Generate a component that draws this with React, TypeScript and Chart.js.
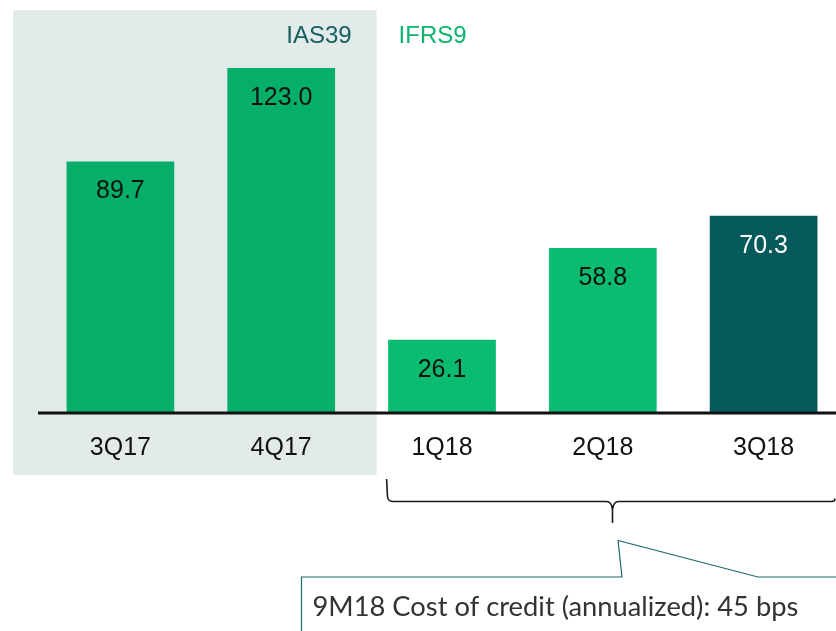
import React, { useEffect, useRef } from "react";
import { Chart, registerables } from "chart.js";

Chart.register(...registerables);

const categories = ["3Q17", "4Q17", "1Q18", "2Q18", "3Q18"];
const values = [89.7, 123.0, 26.1, 58.8, 70.3];
const valueLabels = ["89.7", "123.0", "26.1", "58.8", "70.3"];
const barColors = ["#05AE69", "#05AE69", "#0ABB70", "#0ABB70", "#075A5B"];
const labelColors = ["#111111", "#111111", "#111111", "#111111", "#FFFFFF"];
const regimeLabels = ["IAS39", "IFRS9"];
const calloutText = "9M18 Cost of credit (annualized): 45 bps";

const W = 844;
const H = 631;
const ARIAL = "'Liberation Sans', Arial, sans-serif";

const decorPlugin = {
  id: "decor",
  beforeDraw(chart: any) {
    const { ctx, chartArea, scales } = chart;
    const x = scales.x;
    const midX = (x.getPixelForValue(1) + x.getPixelForValue(2)) / 2;
    const panelLeft = chartArea.left - 27;
    const panelRight = midX + 15;
    ctx.save();
    ctx.fillStyle = "#E3EBEA";
    ctx.fillRect(panelLeft, 10, panelRight - panelLeft, 465);
    ctx.font = `24px ${ARIAL}`;
    ctx.textBaseline = "middle";
    ctx.textAlign = "right";
    ctx.fillStyle = "#17605E";
    ctx.fillText(regimeLabels[0], panelRight - 25, 36);
    ctx.textAlign = "left";
    ctx.fillStyle = "#0BB56C";
    ctx.fillText(regimeLabels[1], panelRight + 22, 36);
    ctx.restore();
  },
  afterDatasetsDraw(chart: any) {
    const { ctx, chartArea } = chart;
    const meta = chart.getDatasetMeta(0);
    ctx.save();
    // value labels
    ctx.font = `25px ${ARIAL}`;
    ctx.textAlign = "center";
    ctx.textBaseline = "middle";
    meta.data.forEach((bar: any, i: number) => {
      ctx.fillStyle = labelColors[i];
      ctx.fillText(valueLabels[i], bar.x, bar.y + 30);
    });
    // baseline
    ctx.strokeStyle = "#111111";
    ctx.lineWidth = 3;
    ctx.beginPath();
    ctx.moveTo(chartArea.left - 2, chartArea.bottom);
    ctx.lineTo(W, chartArea.bottom);
    ctx.stroke();

    // brace
    const b2 = meta.data[2];
    const bl = b2.x - b2.width / 2 - 1.5;
    const br = 835;
    const cx = 612.5;
    const yTop = 479;
    const yH = 501.5;
    const yTip = 523;
    ctx.strokeStyle = "#1A1A1A";
    ctx.lineWidth = 1.6;
    ctx.beginPath();
    ctx.moveTo(bl, yTop);
    ctx.lineTo(bl + 0.8, yH - 5);
    ctx.quadraticCurveTo(bl + 1.5, yH, bl + 6, yH);
    ctx.lineTo(cx - 6, yH);
    ctx.quadraticCurveTo(cx - 1, yH, cx, yH + 8);
    ctx.lineTo(cx, yTip);
    ctx.moveTo(cx, yH + 8);
    ctx.quadraticCurveTo(cx + 1, yH, cx + 6, yH);
    ctx.lineTo(br - 3, yH);
    ctx.quadraticCurveTo(br, yH, br, yH - 3);
    ctx.stroke();

    // callout
    ctx.strokeStyle = "#1C6A6A";
    ctx.lineWidth = 1.2;
    ctx.beginPath();
    ctx.moveTo(301.5, 640);
    ctx.lineTo(301.5, 577);
    ctx.lineTo(622, 577);
    ctx.lineTo(618, 540.5);
    ctx.lineTo(758, 577);
    ctx.lineTo(W, 577);
    ctx.stroke();

    let size = 24;
    const fam = "Lato, 'Open Sans', sans-serif";
    ctx.font = `${size}px ${fam}`;
    const w = ctx.measureText(calloutText).width;
    size = size * (486 / w);
    ctx.font = `${size}px ${fam}`;
    ctx.fillStyle = "#333333";
    ctx.textAlign = "left";
    ctx.textBaseline = "alphabetic";
    ctx.fillText(calloutText, 312.5, 616);
    ctx.restore();
  },
};

export default function App() {
  const ref = useRef<HTMLCanvasElement>(null);
  useEffect(() => {
    if (!ref.current) return;
    const chart = new Chart(ref.current, {
      type: "bar",
      data: {
        labels: categories,
        datasets: [
          {
            data: values,
            backgroundColor: barColors,
            borderWidth: 0,
            barPercentage: 0.67,
            categoryPercentage: 1,
          },
        ],
      },
      options: {
        responsive: false,
        animation: false,
        layout: { padding: { left: 40, right: 0, top: 20.3, bottom: 158 } },
        plugins: { legend: { display: false }, tooltip: { enabled: false } },
        scales: {
          x: {
            grid: { display: false, drawTicks: false },
            border: { display: false },
            ticks: {
              color: "#111111",
              font: { family: ARIAL, size: 25 },
              padding: 20,
            },
            afterFit: (s: any) => {
              s.height = 60;
            },
          },
          y: {
            display: false,
            min: 0,
            max: 140,
          },
        },
      },
      plugins: [decorPlugin],
    });
    return () => chart.destroy();
  }, []);
  return (
    <div
      style={{
        position: "fixed",
        left: 0,
        top: 0,
        width: 836,
        height: 631,
        overflow: "hidden",
        background: "#fff",
      }}
    >
      <canvas ref={ref} width={W} height={H} style={{ width: W, height: H, display: "block" }} />
    </div>
  );
}
